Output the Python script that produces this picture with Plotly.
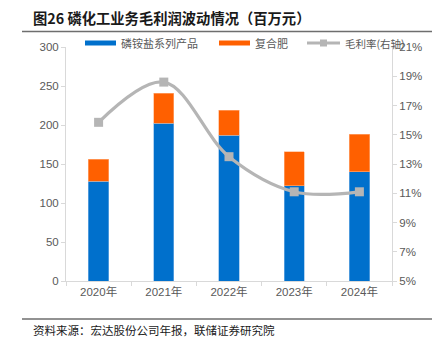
import plotly.graph_objects as go

# Data (百万元 / %)
years = ["2020年", "2021年", "2022年", "2023年", "2024年"]
phosphate = [128, 202, 187, 122, 140]          # 磷铵盐系列产品
compound = [28, 39, 32, 44, 48]                # 复合肥
margin_pct = [15.85, 18.6, 13.5, 11.1, 11.1]   # 毛利率(右轴)

left_ticks = [0, 50, 100, 150, 200, 250, 300]
right_ticks = [5, 7, 9, 11, 13, 15, 17, 19, 21]
right_labels = [f"{v}%" for v in right_ticks]

BLUE = "#0070CC"
ORANGE = "#FF6000"
GREY = "#B5B5B5"
AXIS = "#D9D9D9"
TXT = "#595959"
FONT = "Liberation Sans, Noto Sans CJK SC, sans-serif"
CJK = "Noto Sans CJK SC, sans-serif"

W, H = 439, 340
ML, MR, MT, MB = 66, 47, 47, 59
PW = W - ML - MR
PH = H - MT - MB


def px(x):
    return (x - ML) / PW


def py(y):
    return (H - MB - y) / PH


fig = go.Figure()
fig.add_bar(x=years, y=phosphate, name="磷铵盐系列产品", marker_color=BLUE,
            marker_line=dict(color="#7FB4E6", width=0.6), showlegend=False)
fig.add_bar(x=years, y=compound, name="复合肥", marker_color=ORANGE,
            marker_line=dict(color="#FFB080", width=0.6), showlegend=False)
fig.add_scatter(x=years, y=margin_pct, name="毛利率(右轴)", yaxis="y2",
                mode="lines+markers",
                line=dict(color=GREY, width=3.2, shape="spline", smoothing=1.0),
                marker=dict(symbol="square", size=9, color=GREY),
                showlegend=False)

shapes = []
annotations = []

# header / footer rules
for yy in (31.5, 319):
    shapes.append(dict(type="line", xref="paper", yref="paper",
                       x0=px(22), x1=px(432), y0=py(yy), y1=py(yy),
                       line=dict(color="#6E6E6E", width=1.3)))

annotations.append(dict(text="<b>图26 磷化工业务毛利润波动情况（百万元）</b>",
                        xref="paper", yref="paper", x=px(31), y=py(17),
                        xanchor="left", yanchor="middle", showarrow=False,
                        font=dict(family=CJK, size=14.3, color="#1a1a1a")))
annotations.append(dict(text="资料来源：宏达股份公司年报，联储证券研究院",
                        xref="paper", yref="paper", x=px(31), y=py(330),
                        xanchor="left", yanchor="middle", showarrow=False,
                        font=dict(family=CJK, size=11.5, color="#1a1a1a")))

# legend
ly = 43
shapes.append(dict(type="rect", xref="paper", yref="paper",
                   x0=px(85), x1=px(116), y0=py(ly - 2.5), y1=py(ly + 2.5),
                   fillcolor=BLUE, line=dict(width=0)))
annotations.append(dict(text="磷铵盐系列产品", xref="paper", yref="paper",
                        x=px(119), y=py(ly), xanchor="left", yanchor="middle",
                        showarrow=False, font=dict(family=CJK, size=11, color=TXT)))
shapes.append(dict(type="rect", xref="paper", yref="paper",
                   x0=px(219), x1=px(250), y0=py(ly - 2.5), y1=py(ly + 2.5),
                   fillcolor=ORANGE, line=dict(width=0)))
annotations.append(dict(text="复合肥", xref="paper", yref="paper",
                        x=px(253), y=py(ly), xanchor="left", yanchor="middle",
                        showarrow=False, font=dict(family=CJK, size=11, color=TXT)))
shapes.append(dict(type="line", xref="paper", yref="paper",
                   x0=px(307), x1=px(340), y0=py(ly), y1=py(ly),
                   line=dict(color=GREY, width=3.2)))
shapes.append(dict(type="rect", xref="paper", yref="paper",
                   x0=px(320), x1=px(327), y0=py(ly - 3.5), y1=py(ly + 3.5),
                   fillcolor=GREY, line=dict(width=0)))
annotations.append(dict(text="毛利率(右轴)", xref="paper", yref="paper",
                        x=px(343), y=py(ly), xanchor="left", yanchor="middle",
                        showarrow=False, font=dict(family=CJK, size=10.5, color=TXT)))

fig.update_layout(
    width=W, height=H,
    margin=dict(l=ML, r=MR, t=MT, b=MB, pad=0),
    paper_bgcolor="white", plot_bgcolor="white",
    barmode="stack", bargap=0.69,
    font=dict(family=FONT, size=11.5, color=TXT),
    showlegend=False,
    xaxis=dict(type="category", showline=True, linecolor=AXIS, linewidth=1,
               ticks="outside", tickson="boundaries", ticklen=4, tickcolor=AXIS,
               showgrid=False, tickfont=dict(family=FONT, size=11.5, color=TXT)),
    yaxis=dict(range=[0, 300], tickvals=left_ticks, showline=True, linecolor=AXIS,
               linewidth=1, ticks="outside", ticklen=4, tickcolor=AXIS,
               showgrid=False, zeroline=False,
               tickfont=dict(family=FONT, size=11.5, color=TXT)),
    yaxis2=dict(range=[5, 21], tickmode="array", tickvals=right_ticks,
                ticktext=right_labels, overlaying="y",
                side="right", showline=True, linecolor=AXIS, linewidth=1,
                ticks="outside", ticklen=4, tickcolor=AXIS, showgrid=False,
                zeroline=False, tickfont=dict(family=FONT, size=11.5, color=TXT)),
    shapes=shapes,
    annotations=annotations,
)

fig.write_html("out.html")
